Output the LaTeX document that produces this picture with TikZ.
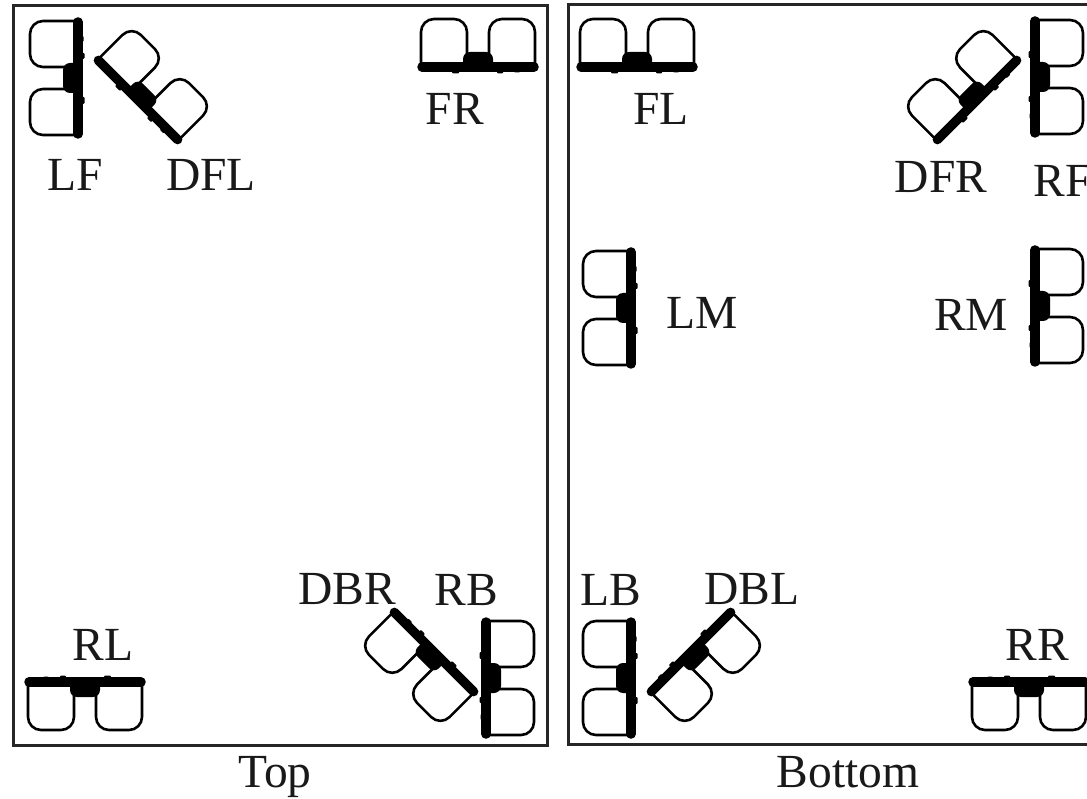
\documentclass[tikz,border=0pt]{standalone}
\usepackage{fontspec}
\setmainfont{Liberation Serif}
\tikzset{
  x=1pt,y=-1pt,
  frameline/.style={draw=black!85,line width=3pt},
  lbl/.style={inner sep=0pt,font=\fontsize{47.5}{47.5}\selectfont,text=black!90,anchor=base},
  seat/.style={draw=black,line width=2.6pt,rounded corners=13pt,fill=white},
  spk/.pic={
    \draw[seat] (-11,0) -- (-11,-48) -- (-57,-48) -- (-57,0);
    \draw[seat] (11,0) -- (11,-48) -- (57,-48) -- (57,0);
    \draw[black,line width=9.5pt,line cap=round] (-56,0) -- (56,0);
    \fill[black,rounded corners=7pt] (-15,-15) rectangle (15,4);
    \fill[black,rounded corners=1pt] (-26,-2) rectangle (-19,6.5);
    \fill[black,rounded corners=1pt] (19,-2) rectangle (25,6.5);
    \fill[black,rounded corners=1pt] (36,-2) rectangle (42,5.5);
  }
}
\begin{document}
\begin{tikzpicture}
\useasboundingbox (0,0) rectangle (1087,799);
\clip (0,0) rectangle (1087,799);
\fill[white] (0,0) rectangle (1087,799);
\draw[frameline] (13,6) rectangle (547,745);
\draw[frameline] (568,5) rectangle (1100,744);

\pic (lf)  [rotate=90]   at (78,78)    {spk};
\pic (dfl) [rotate=-45]  at (138,100)  {spk};
\pic (fr)  [rotate=0]    at (478,67)   {spk};
\pic (rl)  [rotate=180]  at (85,682)   {spk};
\pic (dbr) [rotate=135]  at (434,652)  {spk};
\pic (rb)  [rotate=-90]  at (486,678)  {spk};
\pic (fl)  [rotate=0]    at (637,67)   {spk};
\pic (dfr) [rotate=45]   at (977,100)  {spk};
\pic (rf)  [rotate=-90]  at (1035,77)  {spk};
\pic (lm)  [rotate=90]   at (631,308)  {spk};
\pic (rm)  [rotate=-90]  at (1035,306) {spk};
\pic (lb)  [rotate=90]   at (631,678)  {spk};
\pic (dbl) [rotate=-135] at (691,652)  {spk};
\pic (rr)  [rotate=180]  at (1029,682) {spk};

\node[lbl] (tlf)  at (75,191)   {LF};
\node[lbl] (tdfl) at (211,191)  {DFL};
\node[lbl] (tfr)  at (455,125)  {FR};
\node[lbl] (trl)  at (103,660)  {RL};
\node[lbl] (tdbr) at (347,604)  {DBR};
\node[lbl] (trb)  at (466,605)  {RB};
\node[lbl] (ttop) at (275,787)  {Top};
\node[lbl] (tfl)  at (661,125)  {FL};
\node[lbl] (tdfr) at (941,193)  {DFR};
\node[lbl] (trf)  at (1063,197) {RF};
\node[lbl] (tlm)  at (702,329)  {LM};
\node[lbl] (trm)  at (971,331)  {RM};
\node[lbl] (tlb)  at (611,605)  {LB};
\node[lbl] (tdbl) at (752,604)  {DBL};
\node[lbl] (trr)  at (1037,660) {RR};
\node[lbl] (tbot) at (848,787)  {Bottom};
\end{tikzpicture}
\end{document}
